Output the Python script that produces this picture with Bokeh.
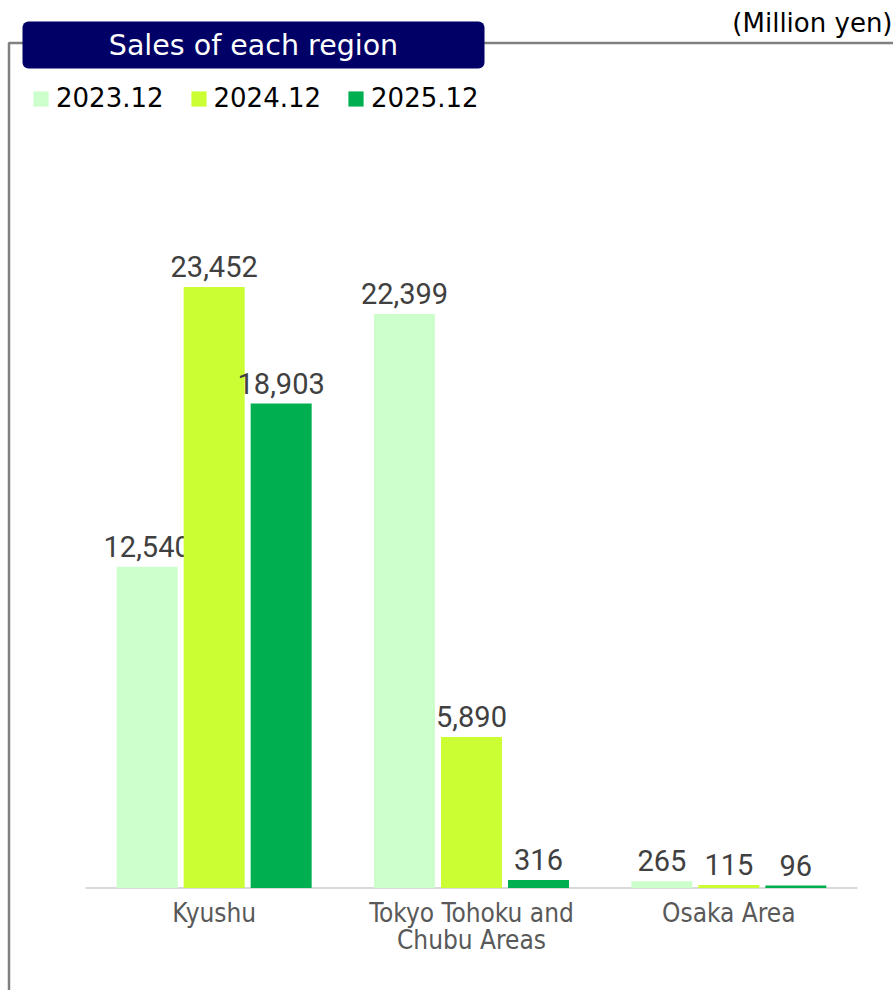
from bokeh.plotting import figure
from bokeh.models import Range1d, Legend, LegendItem, BoxAnnotation, Label
from bokeh.core.properties import value
from bokeh.embed import file_html
from bokeh.resources import INLINE

# ---------------- data ----------------
categories = ["Kyushu", "Tokyo Tohoku and Chubu Areas", "Osaka Area"]
category_labels = ["Kyushu", "Tokyo Tohoku and\nChubu Areas", "Osaka Area"]
series = ["2023.12", "2024.12", "2025.12"]
sales_2023 = [12540, 22399, 265]
sales_2024 = [23452, 5890, 115]
sales_2025 = [18903, 316, 96]
series_values = [sales_2023, sales_2024, sales_2025]
colors = ["#CCFFCC", "#CCFF33", "#00B050"]
title_text = "Sales of each region"
unit_text = "(Million yen)"

# ---------------- geometry (page pixels) ----------------
W, H = 893, 990
AX_L, AX_R = 85, 857
BASE_Y = 887.5
PX_PER_UNIT = 0.025627
n = len(categories)
cat_px = (AX_R - AX_L) / n


def xr(px):
    return (px - AX_L) / cat_px


def yv(py):
    return (BASE_Y - py) / PX_PER_UNIT


p = figure(width=W, height=H, output_backend="svg", toolbar_location=None,
           x_range=Range1d(xr(0), xr(W)), y_range=Range1d(yv(H), yv(0)),
           x_axis_type=None, y_axis_type=None, min_border=0)
p.outline_line_color = None
p.background_fill_color = "white"

COND = "'DejaVu Sans Condensed', 'DejaVu Sans', sans-serif"

# frame lines
p.line(x=[xr(8.5), xr(8.5), xr(893)], y=[yv(990), yv(42.5), yv(42.5)],
       line_color="#808080", line_width=2.5)

# baseline axis line
p.line(x=[0, n], y=[0, 0], line_color="#D9D9D9", line_width=2)

bar_w = 61 / cat_px
step = 67 / cat_px
renderers = []
for j, (name, vals) in enumerate(zip(series, series_values)):
    xs = [i + 0.5 + (j - 1) * step for i in range(n)]
    r = p.vbar(x=xs, top=vals, bottom=0, width=bar_w, fill_color=colors[j], line_color=None)
    renderers.append(r)
    p.text(x=xs, y=vals, text=[f"{v:,}" for v in vals], text_align="center",
           text_baseline="bottom", y_offset=-10, text_font=value("Roboto"),
           text_font_size="29px", text_color="#404040")

# category labels
p.text(x=[i + 0.5 for i in range(n)], y=[0] * n, text=category_labels,
       text_align="center", text_baseline="top", y_offset=10,
       text_font=value(COND), text_font_size="26px", text_color="#595959",
       text_line_height=0.9)

# title box
box = BoxAnnotation(left=xr(22), right=xr(484), top=yv(21), bottom=yv(68),
                    fill_color="#000066", fill_alpha=1.0, line_color=None, border_radius=6)
p.add_layout(box)
p.add_layout(Label(x=xr(253), y=yv(45), text=title_text, text_align="center",
                   text_baseline="middle", text_color="white", text_font_size="28.5px",
                   text_font="DejaVu Sans"))
p.add_layout(Label(x=xr(892), y=yv(22), text=unit_text, text_align="right",
                   text_baseline="middle", text_color="black", text_font_size="26px",
                   text_font="DejaVu Sans"))

legend = Legend(items=[LegendItem(label=s, renderers=[r]) for s, r in zip(series, renderers)],
                orientation="horizontal", location=(31, H - 113), glyph_width=19, glyph_height=19,
                label_text_font_size="26px", label_text_font="DejaVu Sans",
                label_text_color="black", label_standoff=6, spacing=25, padding=0, margin=0,
                border_line_color=None, background_fill_alpha=0)
p.add_layout(legend)

open("out.html", "w").write(file_html(p, INLINE))
